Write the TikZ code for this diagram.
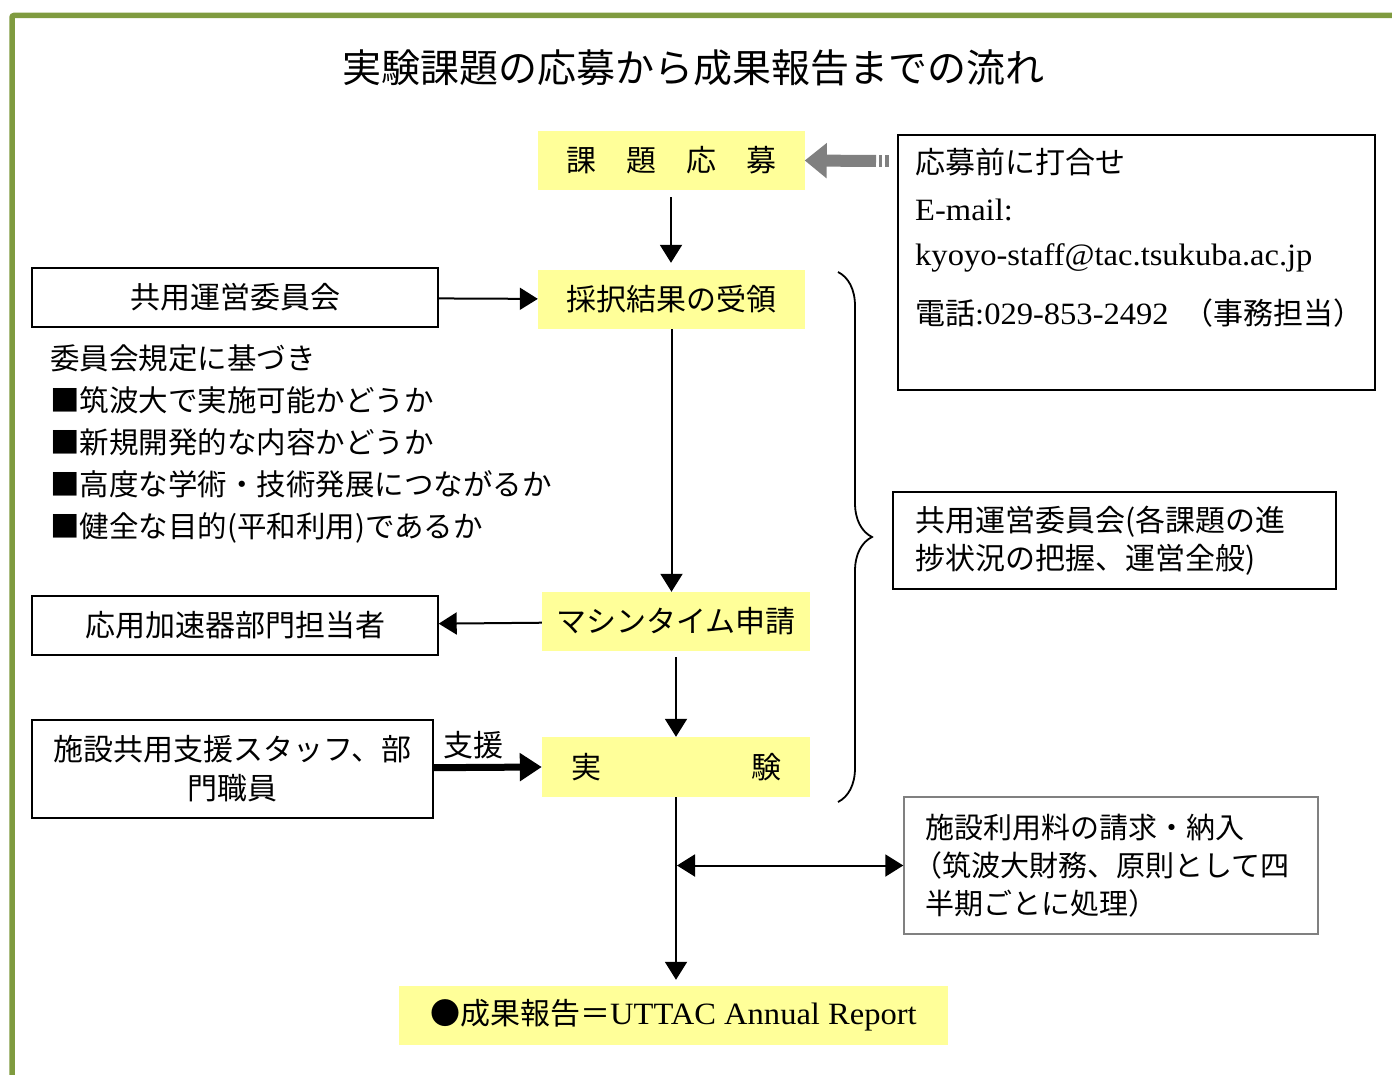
\documentclass[tikz,border=0pt]{standalone}
\usepackage{fontspec}
\setmainfont{Noto Sans CJK JP}
\newfontfamily\latinfont[FakeStretch=1.05]{Liberation Serif}
\usetikzlibrary{arrows.meta,decorations.pathreplacing}
\definecolor{frameGreen}{HTML}{7F9B3F}
\definecolor{stageYellow}{HTML}{FFFF99}
\newcommand{\lat}[1]{{\latinfont #1}}
\newcommand{\bodysize}{\fontsize{30}{39}\selectfont}

\tikzset{
  >={Triangle[length=18pt,width=22pt]},
  stage/.style={fill=stageYellow,minimum width=267pt,minimum height=59pt,inner sep=0pt},
  party/.style={draw,line width=1.4pt,minimum height=59pt,inner sep=0pt,align=center},
  flow/.style={line width=2pt,->},
  plain/.style={inner sep=0pt,anchor=west},
}

\begin{document}
\begin{tikzpicture}[x=1pt,y=-1pt,font=\bodysize]
        \useasboundingbox (0,0) rectangle (1392,1075);
        %
        \draw[frameGreen,line width=5.5pt,rounded corners=2pt] (12,1090) -- (12,15.5) -- (1400,15.5);
        \node[inner sep=0pt] (title) at (693,68) {\fontsize{39}{39}\selectfont 実験課題の応募から成果報告までの流れ};
        %
        % main flow
        \node[stage] (apply)   at (671,160.5) {課\hspace{1em}題\hspace{1em}応\hspace{1em}募};
        \node[stage] (accept)  at (671.5,299.5) {採択結果の受領};
        \node[stage,minimum width=268pt] (mtime) at (676,621.5) {マシンタイム申請};
        \node[stage,minimum width=268pt,minimum height=60pt] (expt) at (676,767) {実\hspace{150pt}験};
        \node[stage,minimum width=549pt] (report) at (673.5,1015.5) {●成果報告＝\lat{\fontsize{31}{31}\selectfont UTTAC Annual Report}};
        %
        % left side
        \node[party,minimum width=406pt] (committee) at (235,297.5) {共用運営委員会};
        \node[party,minimum width=406pt] (division) at (235,625.5) {応用加速器部門担当者};
        \node[party,minimum width=401pt,minimum height=98pt] (staff) at (232.5,769) {施設共用支援スタッフ、部\\門職員};
        \node[inner sep=0pt,align=left,anchor=west,font=\fontsize{29.5}{42}\selectfont] (rules) at (50,444)
          {委員会規定に基づき\\
           ■筑波大で実施可能かどうか\\
           ■新規開発的な内容かどうか\\
           ■高度な学術・技術発展につながるか\\
           ■健全な目的(平和利用)であるか};
        \node[inner sep=0pt] (support) at (473,745) {支援};
        %
        % right side
        \node[party,minimum width=477pt,minimum height=255pt] (contact) at (1136.5,262.5) {};
        \node[plain] (c1) at (915,162) {応募前に打合せ};
        \node[plain] (c2) at (915,210) {\lat{\fontsize{31}{31}\selectfont E-mail:}};
        \node[plain] (c3) at (915,258) {\lat{\fontsize{31}{31}\selectfont kyoyo-staff@tac.tsukuba.ac.jp}};
        \node[plain] (c4) at (915,313) {電話\lat{\fontsize{31}{31}\selectfont :029-853-2492}\hspace{0.5em}（事務担当）};
        \node[party,align=left,text width=399pt,inner xsep=22pt,minimum height=97pt,font=\fontsize{30}{38}\selectfont] (council) at (1114.5,540.5)
          {共用運営委員会(各課題の進\\捗状況の把握、運営全般)};
        \node[party,draw=gray,align=left,text width=372pt,inner xsep=21pt,minimum height=137pt,font=\fontsize{29}{38}\selectfont] (fee) at (1111,865.5)
          {施設利用料の請求・納入\\\hspace{-0.4em}（筑波大財務、原則として四\\半期ごとに処理）};
        %
        % connectors
        \draw[flow,shorten <=7pt,shorten >=7pt] (apply) -- (apply |- accept.north);
        \draw[flow] (accept) -- (accept |- mtime.north);
        \draw[flow,shorten <=6pt] (mtime) -- (mtime |- expt.north);
        \draw[flow,shorten >=6pt] (expt) -- (expt |- report.north);
        \draw[flow] (committee) -- (accept);
        \draw[flow] (mtime) -- (division);
        \draw[line width=7pt,-{Triangle[length=22pt,width=27pt]}] (staff) -- (expt.west);
        \coordinate (billing) at (expt.south |- fee.west);
        \draw[line width=2pt,<->] ([xshift=1pt]billing) -- (fee);
        %
        % gray arrow from the contact box
        \coordinate (tail) at (876,161);
        \draw[gray,line width=12pt,-{Triangle[length=22pt,width=34pt]}] (tail) -- (apply.east);
        \fill[gray] ([shift={(3,-6)}]tail) rectangle ++(3,12);
        \fill[gray] ([shift={(9,-6)}]tail) rectangle ++(4,12);
        %
        % brace
        \coordinate (btop) at (838,272);
        \coordinate (bbot) at (838,802);
        \draw[line width=1.8pt,decorate,decoration={brace,amplitude=34pt}] (btop) -- (bbot);
\end{tikzpicture}
\end{document}
